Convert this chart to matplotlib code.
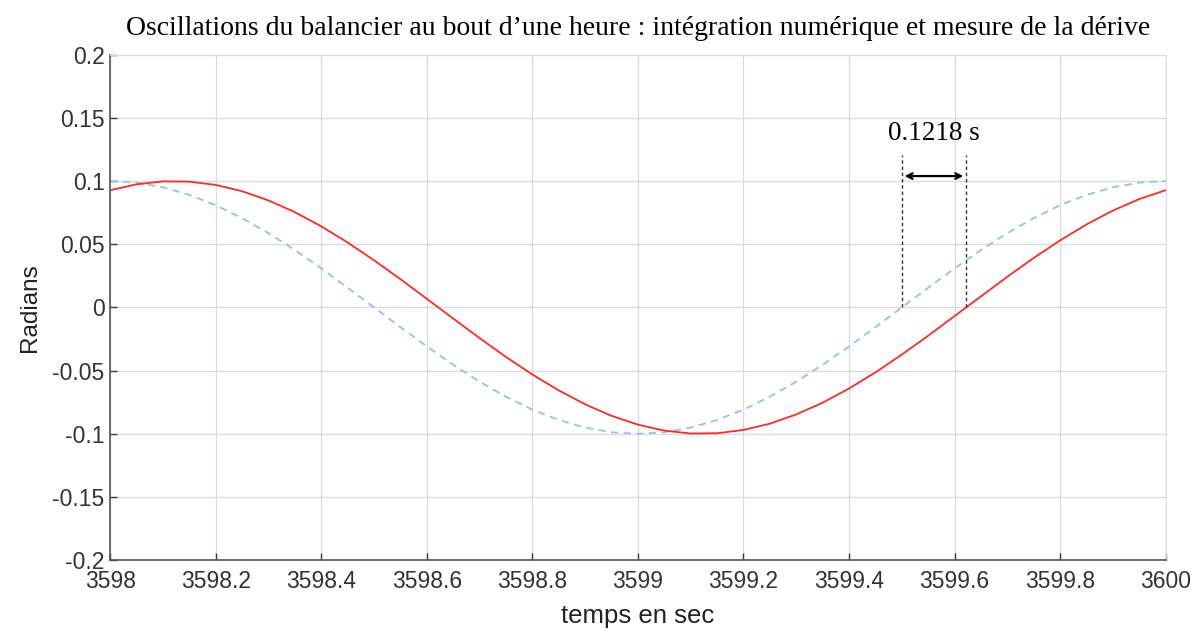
import matplotlib
matplotlib.use('Agg')
import matplotlib.pyplot as plt

# time samples (s) and angles (rad)
t = [3598 + 0.05 * k for k in range(41)]
theta_ref = [0.1000, 0.0988, 0.0951, 0.0891, 0.0809, 0.0707, 0.0588, 0.0454, 0.0309, 0.0156,
             0.0000, -0.0156, -0.0309, -0.0454, -0.0588, -0.0707, -0.0809, -0.0891, -0.0951, -0.0988,
             -0.1000, -0.0988, -0.0951, -0.0891, -0.0809, -0.0707, -0.0588, -0.0454, -0.0309, -0.0156,
             0.0000, 0.0156, 0.0309, 0.0454, 0.0588, 0.0707, 0.0809, 0.0891, 0.0951, 0.0988, 0.1000]
theta_num = [0.0928, 0.0975, 0.0998, 0.0996, 0.0970, 0.0920, 0.0847, 0.0754, 0.0642, 0.0514,
             0.0373, 0.0224, 0.0068, -0.0088, -0.0243, -0.0392, -0.0531, -0.0657, -0.0767, -0.0858,
             -0.0928, -0.0975, -0.0998, -0.0996, -0.0970, -0.0920, -0.0847, -0.0754, -0.0642, -0.0514,
             -0.0373, -0.0224, -0.0068, 0.0088, 0.0243, 0.0392, 0.0531, 0.0657, 0.0767, 0.0858, 0.0928]

t_cross_ref = 3599.5
t_cross_num = 3599.6218
drift_label = '0.1218 s'

xticks = [3598 + 0.2 * i for i in range(11)]
xtick_labels = ['3598', '3598.2', '3598.4', '3598.6', '3598.8', '3599',
                '3599.2', '3599.4', '3599.6', '3599.8', '3600']
yticks = [-0.2, -0.15, -0.1, -0.05, 0, 0.05, 0.1, 0.15, 0.2]
ytick_labels = ['-0.2', '-0.15', '-0.1', '-0.05', '0', '0.05', '0.1', '0.15', '0.2']

plt.rcParams['font.family'] = ['Liberation Sans', 'DejaVu Sans']
serif = ['Liberation Serif', 'DejaVu Serif']

fig = plt.figure(figsize=(11.98, 6.3), dpi=100)
ax = fig.add_axes([0.092, 0.111, 0.881, 0.802])

ax.plot(t, theta_ref, color='#92c3e8', lw=1.3, ls=(0, (4, 3)))
ax.plot(t, theta_num, color='#ff2a2a', lw=1.3)

# drift annotation
ax.plot([t_cross_ref, t_cross_ref], [0, 0.121], color='#333333', lw=1, ls=(0, (2.5, 2)))
ax.plot([t_cross_num, t_cross_num], [0, 0.121], color='#333333', lw=1, ls=(0, (2.5, 2)))
ax.annotate('', xy=(t_cross_ref, 0.104), xytext=(t_cross_num, 0.104),
            arrowprops=dict(arrowstyle='<->', color='black', lw=1.6))
ax.text((t_cross_ref + t_cross_num) / 2, 0.138, drift_label, ha='center', va='center',
        fontsize=19.5, family=serif)

ax.set_xlim(3598, 3600)
ax.set_ylim(-0.2, 0.2)
ax.set_xticks(xticks)
ax.set_xticklabels(xtick_labels)
ax.set_yticks(yticks)
ax.set_yticklabels(ytick_labels)
ax.grid(True, color='#dcdcdc', lw=1)
ax.set_axisbelow(True)
ax.tick_params(direction='in', length=5, width=1, colors='#3a3a3a', labelsize=16.5,
               labelcolor='#333333')
ax.tick_params(axis='x', pad=7)
ax.tick_params(axis='y', pad=4)
for side in ['top', 'right']:
    ax.spines[side].set_color('#dcdcdc')
for side in ['left', 'bottom']:
    ax.spines[side].set_color('#555555')
    ax.spines[side].set_linewidth(1.2)

ax.set_xlabel('temps en sec', fontsize=18.5, color='#222222', labelpad=8)
ax.set_ylabel('Radians', fontsize=17.5, color='#222222', labelpad=8)
ax.set_title('Oscillations du balancier au bout d\u2019une heure : int\u00e9gration num\u00e9rique et mesure de la d\u00e9rive',
             fontsize=20, family=serif, pad=14)

fig.savefig('out.png', dpi=100, facecolor='white')
